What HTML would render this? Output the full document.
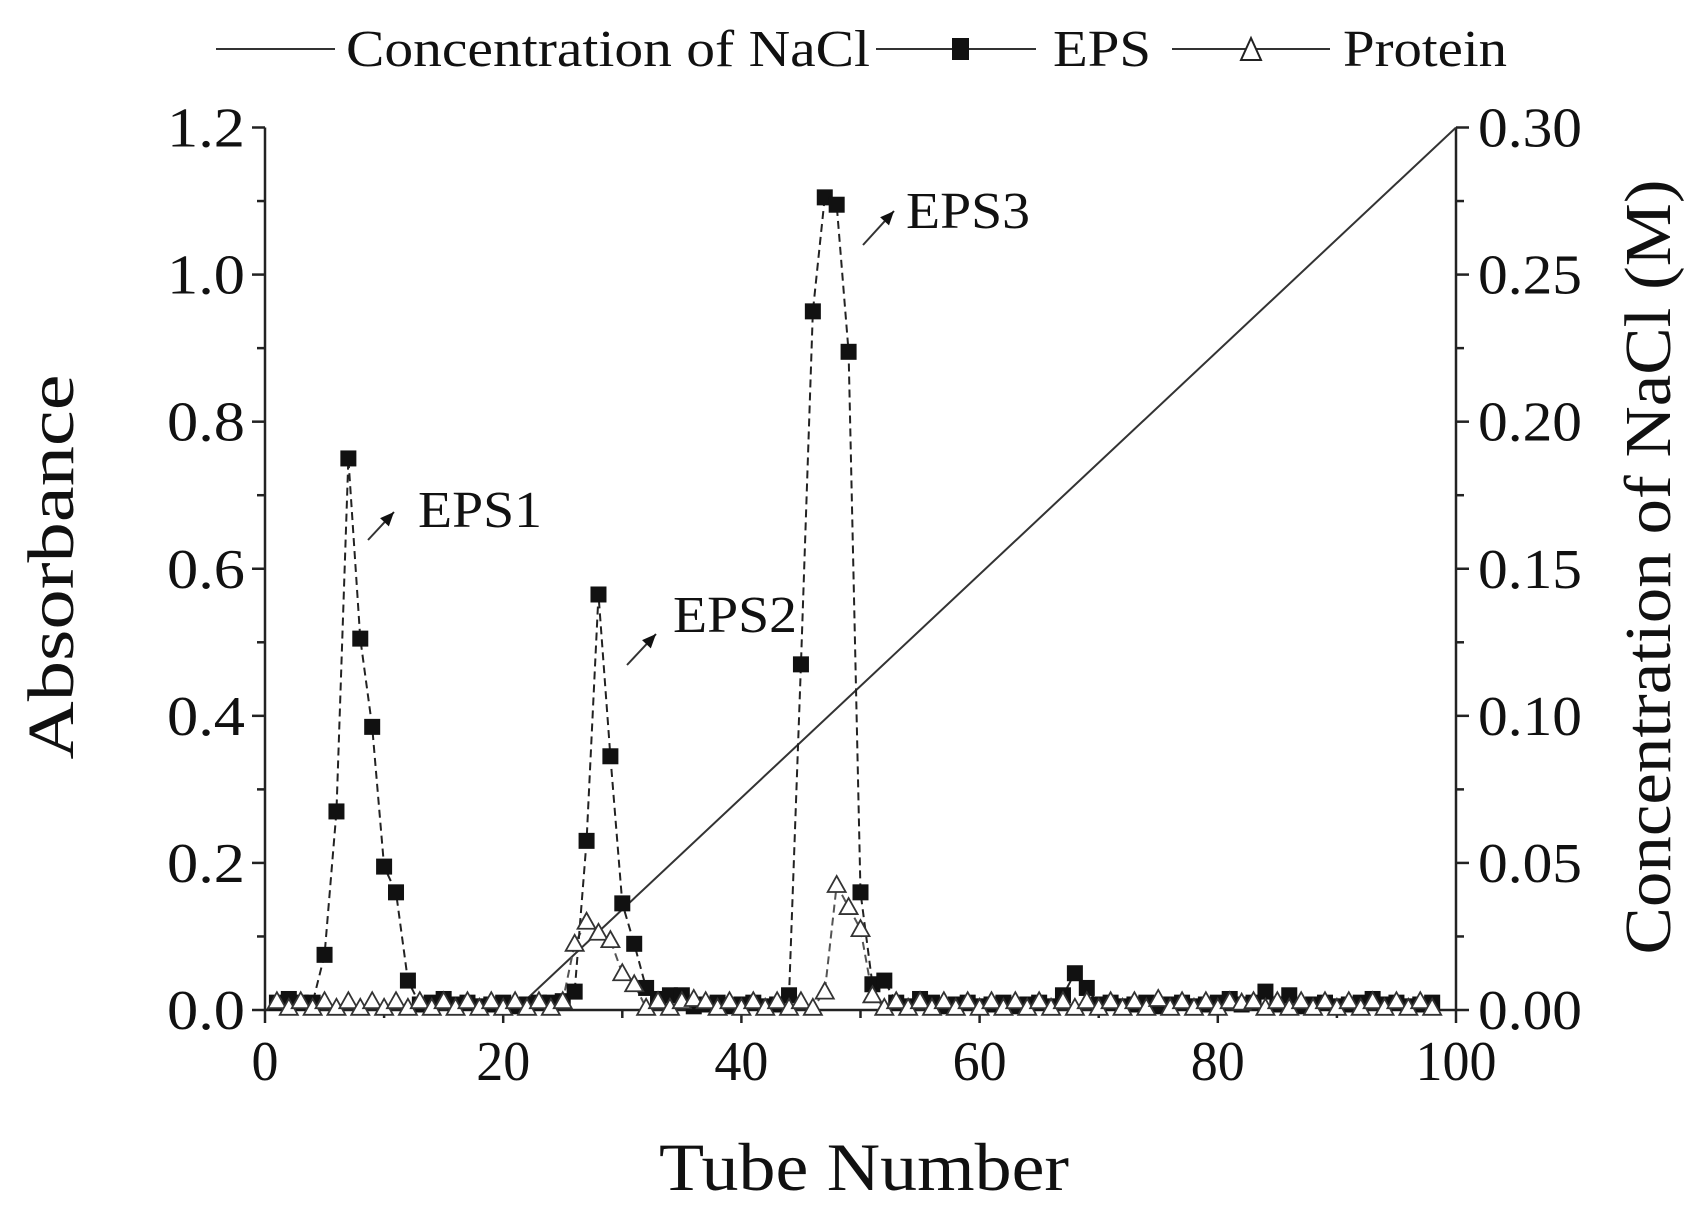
<!DOCTYPE html>
<html><head><meta charset="utf-8"><style>html,body{margin:0;padding:0;background:#fff}svg{display:block;font-family:"Liberation Serif","DejaVu Serif",serif}</style></head>
<body>
<svg id="s" width="1694" height="1209" viewBox="0 0 1694 1209" xmlns="http://www.w3.org/2000/svg" fill="#111">
</svg>
<script>
const s=document.getElementById('s');
const X0=265,X1=1456,Y0=1010,YT=127.5;
const xp=t=>X0+(X1-X0)*t/100, yp=v=>Y0-(Y0-YT)*v/1.2;
let h='';
h+=`<path d="M${X0} ${YT}V${Y0}H${X1}V${YT}" fill="none" stroke="#222" stroke-width="2.5"/>`;
for(let t=0;t<=100;t+=10){const x=xp(t);const L=t%20==0?13:8;h+=`<line x1="${x}" y1="${Y0}" x2="${x}" y2="${Y0+L}" stroke="#222" stroke-width="2.5"/>`;
 if(t%20==0){const w=t==0?27:t==100?81:54;h+=`<text x="${x}" y="${Y0+70}" font-size="56" text-anchor="middle" textLength="${w}" lengthAdjust="spacingAndGlyphs">${t}</text>`;}}
for(let i=0;i<=12;i++){const y=yp(i/10);const L=i%2==0?13:8;
 h+=`<line x1="${X0}" y1="${y}" x2="${X0-L}" y2="${y}" stroke="#222" stroke-width="2.5"/>`;
 h+=`<line x1="${X1}" y1="${y}" x2="${X1+L}" y2="${y}" stroke="#222" stroke-width="2.5"/>`;
 if(i%2==0){h+=`<text x="${X0-20}" y="${y+19}" font-size="56" text-anchor="end" textLength="78" lengthAdjust="spacingAndGlyphs">${(i/10).toFixed(1)}</text>`;
 h+=`<text x="${X1+22}" y="${y+19}" font-size="56" textLength="104" lengthAdjust="spacingAndGlyphs">${(i/40).toFixed(2)}</text>`;}}
h+=`<text transform="translate(73,567) rotate(-90)" font-size="66" text-anchor="middle" textLength="385" lengthAdjust="spacingAndGlyphs">Absorbance</text>`;
h+=`<text transform="translate(1670,567) rotate(-90)" font-size="66" text-anchor="middle" textLength="775" lengthAdjust="spacingAndGlyphs">Concentration of NaCl (M)</text>`;
h+=`<text x="864" y="1190" font-size="68" text-anchor="middle" textLength="410" lengthAdjust="spacingAndGlyphs">Tube Number</text>`;
h+=`<line x1="216" y1="49" x2="335" y2="49" stroke="#333" stroke-width="2"/>`;
h+=`<text x="346" y="66" font-size="52" textLength="524" lengthAdjust="spacingAndGlyphs">Concentration of NaCl</text>`;
h+=`<line x1="876" y1="49" x2="1036" y2="49" stroke="#333" stroke-width="2"/><rect x="952" y="38" width="17" height="22"/>`;
h+=`<text x="1053" y="66" font-size="52" textLength="98" lengthAdjust="spacingAndGlyphs">EPS</text>`;
h+=`<line x1="1172" y1="49" x2="1330" y2="49" stroke="#333" stroke-width="2"/><polygon points="1251,38 1241,60 1261,60" fill="#fff" stroke="#222" stroke-width="2"/>`;
h+=`<text x="1343" y="66" font-size="52" textLength="164" lengthAdjust="spacingAndGlyphs">Protein</text>`;
h+=`<line x1="${xp(21)}" y1="${Y0}" x2="${X1}" y2="${YT}" stroke="#333" stroke-width="2"/>`;
const eps={1:.01,2:.015,3:.01,4:.01,5:.075,6:.27,7:.75,8:.505,9:.385,10:.195,11:.16,12:.04,15:.015,24:.01,25:.012,26:.025,27:.23,28:.565,29:.345,30:.145,31:.09,32:.03,33:.015,34:.02,35:.02,44:.02,45:.47,46:.95,47:1.105,48:1.095,49:.895,50:.16,51:.035,52:.04,55:.015,67:.02,68:.05,69:.03,81:.015,84:.025,86:.02,93:.015};
const pro={26:.09,27:.12,28:.105,29:.095,30:.05,31:.035,36:.015,47:.025,48:.17,49:.14,50:.11,51:.02,75:.015,82:.01};
let pe=[],pp=[];
for(let t=1;t<=98;t++){const e=eps[t]??(.005+.005*((t*7)%3)/2);const p=pro[t]??(t%2?.012:.003);pe.push([xp(t),yp(e)]);pp.push([xp(t),yp(p)]);}
h+=`<polyline points="${pp.map(a=>a.join(',')).join(' ')}" fill="none" stroke="#555" stroke-width="2" stroke-dasharray="8,5"/>`;
h+=`<polyline points="${pe.map(a=>a.join(',')).join(' ')}" fill="none" stroke="#222" stroke-width="2" stroke-dasharray="8,5"/>`;
pe.forEach(([x,y])=>{h+=`<rect x="${x-8}" y="${y-8}" width="16" height="16"/>`;});
pp.forEach(([x,y])=>{h+=`<polygon points="${x},${y-9} ${x-9},${y+7} ${x+9},${y+7}" fill="#fff" stroke="#333" stroke-width="1.8"/>`;});
function ann(x1,y1,x2,y2,tx,ty,txt){h+=`<line x1="${x1}" y1="${y1}" x2="${x2}" y2="${y2}" stroke="#333" stroke-width="2"/>`;
 const a=Math.atan2(y2-y1,x2-x1),c=Math.cos(a),sn=Math.sin(a);
 h+=`<polygon points="${x2},${y2} ${x2-14*c+6*sn},${y2-14*sn-6*c} ${x2-14*c-6*sn},${y2-14*sn+6*c}" fill="#111"/>`;
 h+=`<text x="${tx}" y="${ty}" font-size="52" textLength="${txt.length*31}" lengthAdjust="spacingAndGlyphs">${txt}</text>`;}
ann(368,540,394,512,418,527,'EPS1');
ann(627,665,656,634,673,632,'EPS2');
ann(863,245,894,211,906,228,'EPS3');
s.innerHTML=h;
</script>
</body></html>
